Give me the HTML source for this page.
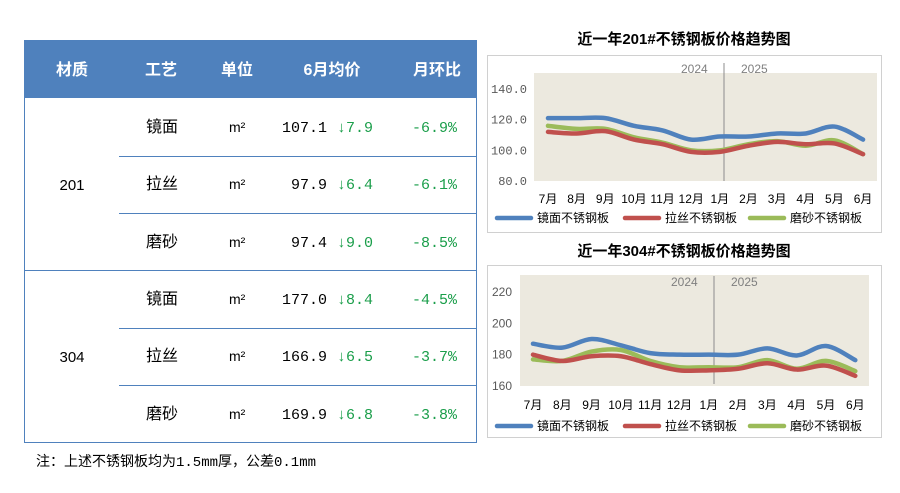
<!DOCTYPE html>
<html><head><meta charset="utf-8"><style>
body{margin:0;background:#fff;width:900px;height:488px;overflow:hidden}
.m{font-family:"Liberation Mono","Noto Sans CJK SC",monospace}
.s{font-family:"Liberation Sans","Noto Sans CJK SC",sans-serif}
</style></head><body>
<svg id="s" width="900" height="488" viewBox="0 0 900 488" xmlns="http://www.w3.org/2000/svg" font-family="Liberation Sans, Noto Sans CJK SC, sans-serif">
<rect x="24.5" y="40.5" width="452" height="402" fill="#fff" stroke="#4f81bd"/>
<rect x="24" y="40" width="453" height="58" fill="#4f81bd"/>
<g fill="#fff" font-size="16" font-weight="bold" text-anchor="middle">
<text x="72" y="75">材质</text><text x="161" y="75">工艺</text><text x="237" y="75">单位</text><text x="332" y="75">6月均价</text><text x="437" y="75">月环比</text></g>
<g stroke="#4f81bd" stroke-width="1">
<line x1="119" y1="156.5" x2="477" y2="156.5"/><line x1="119" y1="213.5" x2="477" y2="213.5"/>
<line x1="24" y1="270.5" x2="477" y2="270.5"/>
<line x1="119" y1="328.5" x2="477" y2="328.5"/><line x1="119" y1="385.5" x2="477" y2="385.5"/></g>
<g font-size="15" fill="#000">
<text x="72" y="190" text-anchor="middle">201</text><text x="72" y="362" text-anchor="middle">304</text>
</g>
<g id="rows" font-size="15"></g>
<text x="36" y="466" font-size="14" fill="#000" class="m">注：上述不锈钢板均为1.5mm厚，公差0.1mm</text>
<text x="684" y="44" font-size="15" font-weight="bold" text-anchor="middle">近一年201#不锈钢板价格趋势图</text>
<rect x="487.5" y="55.5" width="394" height="177" fill="#fff" stroke="#d0d0d0"/>
<rect x="534" y="73" width="343" height="108" fill="#ece9df"/>
<text x="684" y="256" font-size="15" font-weight="bold" text-anchor="middle">近一年304#不锈钢板价格趋势图</text>
<rect x="487.5" y="265.5" width="394" height="172" fill="#fff" stroke="#d0d0d0"/>
<rect x="520" y="275" width="349" height="111" fill="#ece9df"/>
<g id="c"></g>
</svg>
<script>
const NS="http://www.w3.org/2000/svg",c=document.getElementById('c'),rows=document.getElementById('rows');
function el(t,a,txt,p){const e=document.createElementNS(NS,t);for(const k in a)e.setAttribute(k,a[k]);if(txt!=null)e.textContent=txt;(p||c).appendChild(e);return e;}
const R=[["镜面","107.1","7.9","-6.9%"],["拉丝","97.9","6.4","-6.1%"],["磨砂","97.4","9.0","-8.5%"],["镜面","177.0","8.4","-4.5%"],["拉丝","166.9","6.5","-3.7%"],["磨砂","169.9","6.8","-3.8%"]];
const ry=[132,189,247,304,361,419];
R.forEach((r,i)=>{const y=ry[i];
el('text',{x:146,y:y,'font-size':16},r[0],rows);
el('text',{x:229,y:y,'font-size':14},'m²',rows);
el('text',{x:327,y:y,'text-anchor':'end',class:'m'},r[1],rows);
el('text',{x:337,y:y,fill:'#1a9e4a',class:'m'},'↓'+r[2],rows);
el('text',{x:457,y:y,fill:'#1a9e4a','text-anchor':'end',class:'m'},r[3],rows);});
function path(pts){let d=`M${pts[0][0]},${pts[0][1]}`;for(let i=0;i<pts.length-1;i++){const p0=pts[Math.max(i-1,0)],p1=pts[i],p2=pts[i+1],p3=pts[Math.min(i+2,pts.length-1)];
d+=` C${p1[0]+(p2[0]-p0[0])/6},${p1[1]+(p2[1]-p0[1])/6} ${p2[0]-(p3[0]-p1[0])/6},${p2[1]-(p3[1]-p1[1])/6} ${p2[0]},${p2[1]}`;}return d;}
const cols=["#4f81bd","#c0504d","#9bbb59"],mon=["7月","8月","9月","10月","11月","12月","1月","2月","3月","4月","5月","6月"],leg=["镜面不锈钢板","拉丝不锈钢板","磨砂不锈钢板"];
function chart(o){
 const yp=v=>o.y0+(v-o.v0)*(o.y1-o.y0)/(o.v1-o.v0);
 o.ticks.forEach(t=>el('text',{x:o.tx,y:yp(t)+4,'font-size':12,fill:'#595959','text-anchor':'end',class:o.mono?'m':'s'},o.fmt(t)));
 el('line',{x1:o.vx,y1:o.vt,x2:o.vx,y2:o.vb,stroke:'#8c8c8c','stroke-width':1});
 el('text',{x:o.vx-43,y:o.vt+10,'font-size':12,fill:'#7f7f7f'},'2024');el('text',{x:o.vx+17,y:o.vt+10,'font-size':12,fill:'#7f7f7f'},'2025');
 mon.forEach((m,i)=>el('text',{x:o.x0+o.dx*i,y:o.ly,'font-size':12,fill:'#000','text-anchor':'middle'},m));
 [2,1,0].forEach(k=>el('path',{d:path(o.d[k].map((v,i)=>[o.x0+o.dx*i,yp(v)])),fill:'none',stroke:cols[k],'stroke-width':4.5,'stroke-linecap':'round'}));
 [0,1,2].forEach(k=>{const x=o.lx[k];el('line',{x1:x,y1:o.gy,x2:x+34,y2:o.gy,stroke:cols[k],'stroke-width':4.5,'stroke-linecap':'round'});
 el('text',{x:x+40,y:o.gy+4,'font-size':12,fill:'#000'},leg[k]);});
}
chart({mono:true,v0:80,v1:140,y0:181,y1:89,ticks:[80,100,120,140],tx:527,fmt:t=>t.toFixed(1),vx:724,vt:63,vb:181,x0:548,dx:28.64,ly:203,gy:218,lx:[497,625,750],
d:[[121,121,121,116,113,107,109,109,111,111,115.5,107],[112,111,112.5,107,104,99,99,103,105.5,104,104.5,97.5],[116,114,114,108.5,105,100,100,104,106,103,106.5,97.5]]});
chart({v0:160,v1:220,y0:386,y1:292,ticks:[160,180,200,220],tx:512,fmt:t=>String(t),vx:714,vt:276,vb:384,x0:533,dx:29.3,ly:409,gy:426,lx:[497,625,750],
d:[[187,184.5,190,186,181,180,180,180,184,179.5,185.5,176.5],[180,176,179,179,174,170,170,171,174.5,170.5,173,166.5],[177,176,182,183,176,172,172,172,176.5,171,176,169.5]]});
</script>
</body></html>
